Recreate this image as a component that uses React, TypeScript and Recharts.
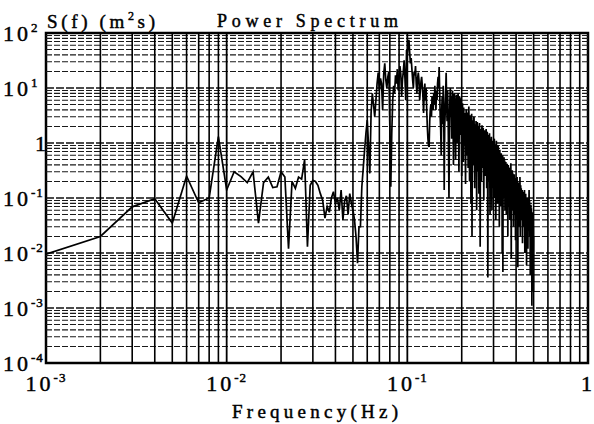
import React from 'react';
import { LineChart, Line, XAxis, YAxis, ReferenceLine, ReferenceArea } from 'recharts';

// Frequency resolution of the spectrum (Hz); sample k sits at k * FREQ_STEP
const FREQ_STEP = 0.001;

// S(f) values, m^2 s
const lowBand = [
  0.0095, 0.02, 0.069, 0.097, 0.035, 0.25, 0.082, 0.1, 1.3, 0.14,
  0.3, 0.245, 0.19, 0.3, 0.035, 0.19, 0.24, 0.155, 0.16, 0.3,
  0.24, 0.012, 0.2, 0.15, 0.24, 0.22, 0.5, 0.013, 0.17, 0.21,
  0.2, 0.17, 0.12, 0.09, 0.043, 0.07, 0.055, 0.1, 0.13, 0.08,
  0.1, 0.06, 0.14, 0.04, 0.09, 0.11, 0.05, 0.12, 0.08, 0.06,
  0.04, 0.02, 0.0065, 0.03,
];

const peakBand = [
  0.03, 0.16, 0.35, 0.75, 1.5, 2.6, 0.9, 0.28, 3.5, 8,
  5, 3, 6, 12, 19, 9, 15, 12, 4, 18,
  28, 14, 10, 16, 20, 2, 0.16, 1.5, 6, 11,
  8, 17, 12, 22, 9, 15, 25, 18, 7, 14,
  20, 32, 15, 6, 49, 40, 60, 75, 45, 28,
  35, 22, 14, 10, 20, 17, 25, 12, 8, 15,
  19, 14, 6, 9, 13, 16, 11, 7, 3.5, 8,
  12, 6, 10, 4, 2, 1.2, 0.9, 0.85, 2.5, 4,
  5, 3, 7, 6, 4, 8, 5, 11, 7, 4,
  9, 6, 12, 16, 10, 24,
];

const tailBand = [
  9, 3, 1.7, 0.6, 4, 7, 2.2, 11, 5, 0.14,
  2, 3.5, 8, 19, 6, 2.5, 9, 4, 0.8, 0.1,
  1.5, 6, 10, 3, 7, 1.2, 5, 9, 2.8, 0.4,
  4, 8, 6, 1.8, 0.5, 3.3, 7.5, 4.5, 1, 6,
  8, 2.4, 0.3, 5, 7, 3, 1.4, 6.5, 2, 0.25,
  3.8, 5.3, 1.6, 0.45, 4.4, 2.6, 0.9, 3.5, 1.2, 0.18,
  2.9, 4.1, 1.1, 0.6, 3.6, 2, 0.35, 2.7, 4.6, 1.3,
  0.2, 2.3, 3.2, 0.7, 0.08, 1.9, 3.4, 0.02, 1, 2.6,
  1.7, 0.4, 2.8, 3, 0.9, 0.15, 2.2, 1.4, 0.5, 2.5,
  1.8, 0.06, 1.2, 2.4, 0.8, 0.3, 2, 1.5, 0.12, 1.9,
  2.3, 0.7, 0.013, 1.1, 1.8, 0.5, 0.2, 1.6, 2.1, 0.9,
  0.35, 1.4, 1.9, 0.6, 0.09, 1.2, 1.7, 0.8, 0.25, 1.5,
  1, 0.4, 1.8, 1.3, 0.15, 0.7, 1.6, 0.5, 0.0036, 0.9,
  1.4, 0.6, 0.2, 1.1, 1.5, 0.3, 0.05, 0.8, 1.2, 0.45,
  0.9, 1.3, 0.25, 0.06, 0.7, 1.1, 0.4, 0.15, 1, 0.8,
  0.3, 0.9, 1.2, 0.5, 0.1, 0.7, 0.95, 0.22, 0.04, 0.6,
  1.1, 0.45, 0.18, 0.8, 0.65, 0.08, 0.5, 0.9, 0.3, 0.12,
  0.7, 0.55, 0.03, 0.4, 0.75, 0.2, 0.6, 0.35, 0.07, 0.5,
  0.65, 0.15, 0.45, 0.28, 0.01, 0.38, 0.6, 0.0045, 0.25, 0.5,
  0.2, 0.42, 0.55, 0.1, 0.3, 0.48, 0.06, 0.35, 0.4, 0.14,
  0.45, 0.25, 0.05, 0.38, 0.3, 0.09, 0.42, 0.2, 0.33, 0.02,
  0.28, 0.4, 0.12, 0.22, 0.36, 0.07, 0.3, 0.18, 0.04, 0.27,
  0.35, 0.1, 0.24, 0.43, 0.15, 0.008, 0.2, 0.3, 0.11, 0.25,
  0.32, 0.06, 0.18, 0.28, 0.13, 0.22, 0.03, 0.16, 0.26, 0.09,
  0.2, 0.27, 0.05, 0.14, 0.23, 0.11, 0.017, 0.19, 0.15, 0.08,
  0.21, 0.12, 0.04, 0.17, 0.24, 0.07, 0.13, 0.2, 0.0055, 0.1,
  0.16, 0.06, 0.14, 0.19, 0.09, 0.03, 0.15, 0.12, 0.05, 0.24,
  0.11, 0.02, 0.13, 0.17, 0.07, 0.1, 0.15, 0.04, 0.09, 0.12,
  0.06, 0.14, 0.1, 0.015, 0.08, 0.13, 0.05, 0.11, 0.09, 0.03,
  0.12, 0.07, 0.1, 0.04, 0.14, 0.06, 0.01, 0.09, 0.11, 0.05,
  0.08, 0.12, 0.03, 0.07, 0.1, 0.045, 0.006, 0.09, 0.06, 0.02,
  0.1, 0.05, 0.08, 0.035, 0.012, 0.07, 0.09, 0.04, 0.06, 0.025,
  0.08, 0.14, 0.03, 0.06, 0.09, 0.02, 0.05, 0.07, 0.004, 0.04,
  0.06, 0.03, 0.075, 0.015, 0.05, 0.065, 0.02, 0.045, 0.0011, 0.03,
  0.055, 0.025, 0.04, 0.008, 0.035, 0.05, 0.018, 0.03, 0.002, 0.02,
];

const spectrum = [...lowBand, ...peakBand, ...tailBand];
const data = spectrum.map((s, i) => ({ f: (i + 1) * FREQ_STEP, s }));

// Axes
const xTicks = [0.001, 0.01, 0.1, 1];
const xTickLabels = [['10', '-3'], ['10', '-2'], ['10', '-1'], ['1', '']];
const yTicks = [1e-4, 1e-3, 1e-2, 1e-1, 1, 10, 100];
const yTickLabels = [['10', '-4'], ['10', '-3'], ['10', '-2'], ['10', '-1'], ['1', ''], ['10', '1'], ['10', '2']];

const mantissas = [2, 3, 4, 5, 6, 7, 8, 9];
const xDecades = [0.001, 0.01, 0.1];
const yDecades = [1e-4, 1e-3, 1e-2, 1e-1, 1, 10];
const xMinorGrid = xDecades.flatMap((d) => mantissas.map((m) => +(m * d).toPrecision(3)));
const yMinorGrid = yDecades.flatMap((d) => mantissas.map((m) => +(m * d).toPrecision(3)));
const xMajorGrid = [0.01, 0.1];
const yMajorGrid = [1e-3, 1e-2, 1e-1, 1, 10];

const FONT = 'Liberation Serif, Times New Roman, serif';
const INK = { fill: '#000', stroke: '#000', strokeWidth: 0.45 };

const idxOf = (arr: number[], v: number) => {
  let best = 0;
  arr.forEach((a, i) => {
    if (Math.abs(Math.log10(a) - Math.log10(v)) < Math.abs(Math.log10(arr[best]) - Math.log10(v))) best = i;
  });
  return best;
};

const XTick = (props: any) => {
  const { x, y, payload } = props;
  const [base, exp] = xTickLabels[idxOf(xTicks, payload.value)];
  return (
    <text x={x} y={y + 28} textAnchor="middle" fontFamily={FONT} fontSize={22} letterSpacing={3} {...INK}>
      {base}
      {exp ? <tspan dy={-9} fontSize={13} letterSpacing={1}>{exp}</tspan> : null}
    </text>
  );
};

const YTick = (props: any) => {
  const { y, payload } = props;
  const [base, exp] = yTickLabels[idxOf(yTicks, payload.value)];
  const left = exp ? 3 : 35;
  return (
    <text x={left} y={y + 8} textAnchor="start" fontFamily={FONT} fontSize={22} letterSpacing={3} {...INK}>
      {base}
      {exp ? <tspan dy={-9} fontSize={13} letterSpacing={1}>{exp}</tspan> : null}
    </text>
  );
};

export default function App() {
  return (
    <div style={{ position: 'absolute', left: 0, top: 0, width: 594, height: 424, background: '#fff' }}>
      <LineChart
        width={594}
        height={424}
        data={data}
        margin={{ top: 33, right: 6, left: 0, bottom: 0 }}
      >
        <XAxis
          dataKey="f"
          type="number"
          scale="log"
          domain={[0.001, 1]}
          allowDataOverflow
          ticks={xTicks}
          tick={<XTick />}
          axisLine={false}
          tickLine={false}
          tickSize={0}
          tickMargin={0}
          height={61}
          interval={0}
        />
        <YAxis
          type="number"
          scale="log"
          domain={[1e-4, 100]}
          allowDataOverflow
          ticks={yTicks}
          tick={<YTick />}
          axisLine={false}
          tickLine={false}
          tickSize={0}
          tickMargin={0}
          width={46}
          interval={0}
        />
        {yMinorGrid.map((v) => (
          <ReferenceLine key={'ym' + v} y={v} stroke="#1a1a1a" strokeWidth={1.1} strokeDasharray="6 2" />
        ))}
        {yMajorGrid.map((v) => (
          <ReferenceLine key={'yM' + v} y={v} stroke="#111" strokeWidth={1.3} strokeDasharray="8 2" />
        ))}
        {xMinorGrid.map((v) => (
          <ReferenceLine key={'xm' + v} x={v} stroke="#000" strokeWidth={1.6} />
        ))}
        {xMajorGrid.map((v) => (
          <ReferenceLine key={'xM' + v} x={v} stroke="#000" strokeWidth={1.8} />
        ))}
        <ReferenceArea x1={0.001} x2={1} y1={1e-4} y2={100} fill="none" stroke="#000" strokeWidth={2.5} />
        <Line
          type="linear"
          dataKey="s"
          stroke="#000"
          strokeWidth={1.7}
          dot={false}
          activeDot={false}
          isAnimationActive={false}
        />
      </LineChart>
      <svg width={594} height={424} style={{ position: 'absolute', left: 0, top: 0, pointerEvents: 'none' }}>
        <text x={47} y={28} fontFamily={FONT} fontSize={19} textLength={108} lengthAdjust="spacing" {...INK}>
          S(f) (m<tspan dy={-8} fontSize={12}>2</tspan><tspan dy={8}>s)</tspan>
        </text>
        <text x={217} y={27} fontFamily={FONT} fontSize={18} textLength={181} lengthAdjust="spacing" {...INK}>
          Power Spectrum
        </text>
        <text x={232} y={418} fontFamily={FONT} fontSize={19} textLength={166} lengthAdjust="spacing" {...INK}>
          Frequency(Hz)
        </text>
      </svg>
    </div>
  );
}
